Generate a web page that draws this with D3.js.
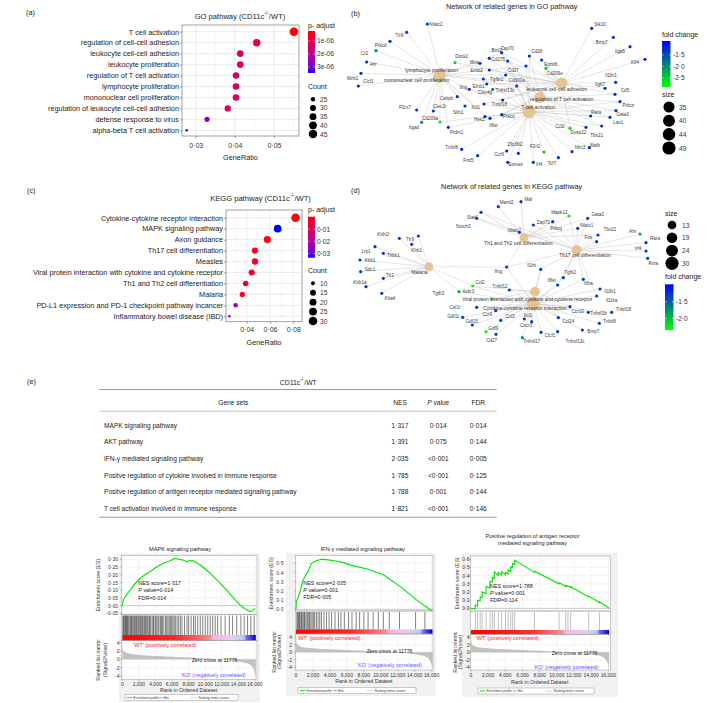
<!DOCTYPE html>
<html><head><meta charset="utf-8">
<script src="https://cdn.jsdelivr.net/npm/d3@7"></script>
<style>body{margin:0;background:#fff}svg{display:block}</style>
</head><body>
<svg id="chart" width="709" height="703"></svg>
<script>
// ================= DATA =================
// (a) GO dot plot
const goTerms = ["T cell activation","regulation of cell-cell adhesion","leukocyte cell-cell adhesion","leukocyte proliferation","regulation of T cell activation","lymphocyte proliferation","mononuclear cell proliferation","regulation of leukocyte cell-cell adhesion","defense response to virus","alpha-beta T cell activation"];
const goRatio = [0.0551,0.0456,0.0414,0.0414,0.0403,0.0403,0.0403,0.0382,0.0329,0.0277];
const goCount = [46,38,34,34,33,33,33,32,27,23];
const goPadj = [2.5e-7,1.05e-6,1.3e-6,1.3e-6,1.35e-6,1.35e-6,1.35e-6,1.2e-6,2.9e-6,3.45e-6];
const goRatioTicks = [0.03,0.04,0.05];
const goPadjTicks = [1e-6,2e-6,3e-6];
const goCountLegend = [25,30,35,40,45];

// (c) KEGG dot plot
const keggTerms = ["Cytokine-cytokine receptor interaction","MAPK signaling pathway","Axon guidance","Th17 cell differentiation","Measles","Viral protein interaction with cytokine and cytokine receptor","Th1 and Th2 cell differentiation","Malaria","PD-L1 expression and PD-1 checkpoint pathway incancer","Inflammatory bowel disease (IBD)"];
const keggRatio = [0.082,0.0666,0.0577,0.0471,0.0471,0.0443,0.0391,0.0362,0.0305,0.0251];
const keggCount = [30,24,21,17,17,16,14,13,11,9];
const keggPadj = [0.0008,0.0333,0.0015,0.002,0.002,0.0025,0.003,0.003,0.024,0.025];
const keggRatioTicks = [0.04,0.06,0.08];
const keggPadjTicks = [0.01,0.02,0.03];
const keggCountLegend = [10,15,20,25,30];

// (b) GO gene-concept network: hubs [code, term, layoutX, layoutY, size, labelX, labelY]
const goNetHubs = [
 ["P","lymphocyte proliferation",270,225,40,245,210],
 ["Q","mononuclear cell proliferation",266,231,38,200,241],
 ["A","leukocyte cell-cell adhesion",635,250,37,620,268],
 ["R","regulation of T cell activation",570,292,35,635,296],
 ["T","T cell activation",537,335,49,565,322]
];
// genes [name, layoutX, layoutY, fold change, labelX, labelY, linked hubs]
const goNetGenes = [
 ["Nfatc2",232,72,-1.3,258,72,"P"],["Tlr9",170,97,-1.3,148,107,"P"],["Prkcd",120,124,-1.3,92,137,"P"],
 ["Cr2",78,152,-2.0,43,161,"P"],["Ahr",50,186,-1.3,70,193,"P"],["Mzb1",33,220,-1.3,8,236,"P"],
 ["Clcf1",25,258,-1.3,55,243,"P"],["P2rx7",200,330,-1.3,165,322,"P"],["Itgad",215,367,-2.0,192,381,"P"],
 ["Cd209a",270,366,-2.7,240,354,"PT"],["Clec2i",250,333,-1.3,268,320,"P"],["Prdm1",295,382,-1.3,320,397,"PT"],
 ["Tnfsf8",335,448,-1.3,305,442,"T"],["Fzd5",383,467,-1.3,355,480,"T"],["Ccr9",470,453,-1.3,447,462,"T"],
 ["Eomes",473,487,-1.3,497,493,"T"],["Zfp36l2",505,460,-1.3,495,432,"T"],["Irf4",550,487,-1.3,568,493,"T"],
 ["F2rl1",582,456,-2.5,555,440,"T"],["Tcf7",625,473,-1.3,606,489,"T"],["Nlrc3",666,455,-1.3,690,443,"T"],
 ["Mafb",718,443,-1.3,735,437,"T"],["Ccl2",660,385,-2.6,630,378,"TRA"],["Dusp22",708,382,-1.3,685,397,"T"],
 ["Tbx21",755,378,-1.3,740,407,"TR"],["Rara",722,348,-1.3,738,337,"TR"],["Lax1",780,352,-1.3,805,368,"TR"],
 ["Gata3",798,332,-1.3,818,342,"TR"],["Prkcz",810,305,-1.3,835,316,"TR"],["Cd5",795,283,-1.3,825,270,"RA"],
 ["Itgb7",765,265,-1.3,750,252,"A"],["Il18r1",797,247,-1.3,783,225,"A"],["Klf4",885,178,-1.3,855,187,"A"],
 ["Itga5",840,140,-1.3,810,155,"A"],["Bmp7",790,112,-1.3,755,127,"A"],["Stk10",725,85,-1.3,750,73,"A"],
 ["Cd28",538,168,-1.3,560,155,"RTA"],["Ephb6",575,180,-1.3,603,193,"A"],["Cd209e",588,205,-2.5,614,220,"A"],
 ["Zap70",455,158,-1.3,472,145,"PTRA"],["Btnl2",418,175,-1.3,440,150,"TR"],["Cd276",473,183,-1.3,445,177,"TRA"],
 ["Il6ra",390,190,-1.3,372,188,"P"],["Erbb2",418,210,-1.3,380,212,"A"],["Cd27",528,198,-1.3,490,212,"PT"],
 ["Dock2",315,188,-2.6,335,170,"PA"],["Tgfbr2",400,237,-1.3,440,239,"PTRA"],["Cd300a",467,225,-1.3,500,241,"PA"],
 ["Efnb1",410,252,-1.3,386,260,"A"],["Ifng",358,268,-1.3,340,263,"PTR"],["Clec4g",428,268,-2.0,405,278,"A"],
 ["Tnfrsf13c",500,258,-1.3,465,270,"PT"],["Cebpb",322,290,-1.3,290,294,"P"],["Xcl1",402,312,-1.3,377,322,"TA"],
 ["Slfn1",345,318,-1.3,325,336,"P"],["Tnfsf18",458,300,-1.3,448,313,"TA"],["Hes1",405,350,-1.3,388,357,"PT"],
 ["Prkcq",455,344,-1.3,476,350,"TRA"],["Il6st",420,355,-1.3,430,377,"P"]
];
const goNetSizeLegend = [35,40,44,49];
const goNetFcTicks = [-1.5,-2.0,-2.5];

// (d) KEGG gene-concept network
const keggNetHubs = [
 ["M","Malaria",237,275,13,208,292],
 ["H","Th1 and Th2 cell differentiation",522,188,14,505,205],
 ["S","Th17 cell differentiation",680,225,17,705,240],
 ["V","Viral protein interaction with cytokine and cytokine receptor",555,350,16,532,372],
 ["C","Cytokine-cytokine receptor interaction",550,385,30,525,398]
];
const keggNetGenes = [
 ["Maml2",445,95,-1.3,470,83,"H"],["Maf",513,80,-1.3,535,73,"H"],["Stat4",393,112,-1.3,367,127,"HS"],
 ["Notch3",380,130,-1.3,340,153,"HS"],["Nfatc2",508,172,-1.3,493,165,"HS"],["Zap70",550,150,-1.3,580,142,"HS"],
 ["Mapk12",657,123,-2.3,628,112,"HS"],["Gata3",713,130,-1.3,743,118,"HS"],["Prkcq",608,140,-1.3,618,160,"HS"],
 ["Nfatc1",683,160,-1.3,710,152,"HS"],["Tbx21",744,180,-1.3,780,164,"HS"],["Fos",740,200,-1.3,715,186,"S"],
 ["Ahr",870,177,-1.9,848,170,"S"],["Rara",888,203,-1.3,915,190,"S"],["Irf4",888,228,-1.3,865,220,"S"],
 ["Rxra",893,250,-1.3,910,265,"S"],["Il2rb",572,283,-1.3,545,270,"SCV"],["Ifng",470,276,-1.3,445,290,"MHSC"],
 ["Tgfb2",640,308,-1.3,660,292,"SC"],["Il6st",623,330,-1.3,605,316,"SC"],["Il6ra",700,313,-1.3,715,325,"SC"],
 ["Il18r1",750,342,-1.3,780,350,"C"],["Il10ra",740,363,-1.3,785,377,"SC"],["Tnfsf18",785,412,-1.3,820,404,"C"],
 ["Tnfrsf1b",715,412,-1.3,745,415,"C"],["Tnfsf8",748,445,-1.3,778,440,"C"],["Bmp7",697,465,-1.3,730,470,"C"],
 ["Ccl24",625,428,-1.3,655,438,"CV"],["Ccr10",660,395,-1.3,683,410,"CV"],["Tnfrsf13c",623,470,-1.3,675,500,"C"],
 ["Clcf1",573,472,-1.3,600,480,"C"],["Tnfrsf17",517,488,-1.8,545,500,"C"],["Cxcr3",545,440,-1.3,528,452,"CV"],
 ["Xcl1",523,432,-1.3,533,420,"CV"],["Ccl3",452,436,-1.3,480,423,"CV"],["Ccr9",437,407,-1.3,412,418,"CV"],
 ["Gdf15",367,450,-1.3,365,440,"C"],["Gdf11",338,427,-1.3,310,425,"C"],["Csf1r",380,397,-1.3,315,397,"C"],
 ["Gdf9",408,470,-2.4,430,460,"C"],["Cd27",438,478,-1.3,425,495,"C"],["Tnfsf12",478,345,-1.3,450,333,"CV"],
 ["Ccl2",368,333,-2.4,390,322,"CVM"],["Ackr3",425,372,-2.3,355,348,"CV"],["Tgfb3",327,350,-1.9,265,355,"CM"],
 ["Klrb1f",148,190,-1.3,100,178,"M"],["Tlr9",205,183,-1.3,180,193,"M"],["Klrb1",185,208,-1.3,200,227,"M"],
 ["Lrp1",75,215,-1.3,48,228,"M"],["Thbs1",100,235,-1.3,130,240,"M"],["Klrk1",30,255,-1.3,60,255,"M"],
 ["Sdc1",32,290,-1.3,60,283,"M"],["Tlr2",100,310,-1.3,120,300,"M"],["Klrb1a",48,335,-1.3,30,323,"M"],
 ["Klra4",95,355,-1.3,120,369,"M"]
];
const keggNetSizeLegend = [13,19,24,30];
const keggNetFcTicks = [-1.5,-2.0];

// (e) GSEA table
const gseaGeneSets = ["MAPK signaling pathway","AKT pathway","IFN-γ mediated signaling pathway","Positve regulation of cytokine involved in immune response","Positve regulation of antigen receptor mediated signaling pathway","T cell activation involved in immune response"];
const gseaNES = ["1·317","1·391","2·035","1·785","1·788","1·821"];
const gseaP = ["0·014","0·075","<0·001","<0·001","0·001","<0·001"];
const gseaFDR = ["0·014","0·144","0·005","0·125","0·144","0·146"];

// GSEA enrichment plots
const rankTicks = [0,2000,4000,6000,8000,10000,12000,14000,16000];
const mapkEsRank = [0,120,500,930,1400,1930,2600,3340,4000,4540,5100,5750,6350,6800,7300,7760,8200,8560,9500,10580,11600,12580,13400,14190,14800,15400,15700,16000];
const mapkEs = [0,0.037,0.07,0.10,0.135,0.166,0.195,0.22,0.245,0.263,0.278,0.291,0.306,0.30,0.295,0.285,0.292,0.29,0.26,0.21,0.155,0.10,0.05,0.005,-0.02,-0.039,-0.032,-0.017];
const mapkHits = [60,150,260,380,450,520,640,700,820,950,1050,1120,1250,1380,1460,1600,1720,1800,1950,2100,2180,2300,2450,2520,2680,2800,2900,3050,3200,3300,3420,3600,3750,3820,4000,4150,4300,4420,4600,4750,4820,5000,5200,5350,5500,5650,5800,5950,6100,6250,6400,6600,6800,7000,7200,7500,7800,8000,8300,8600,8800,9100,9400,9700,10000,10300,10600,10900,11200,11500,11900,12400,12900,13300,13800,14300,14700,15100,15500,15900];
const ifnEsRank = [0,50,430,830,1410,1800,2380,2960,3540,4520,5490,6460,8410,10350,12300,14250,16000];
const ifnEs = [0,0.083,0.174,0.318,0.409,0.5,0.528,0.543,0.54,0.528,0.51,0.48,0.438,0.373,0.246,0.10,-0.015];
const ifnHits = [100,200,300,420,500,640,720,850,980,1050,1200,1350,1500,1600,1750,1900,2050,2200,2400,2600,2800,3000,3300,3600,3900,4200,4600,5000,5300,5700,6200,6600,7100,7500,8000,8500,9100,9700,10300,11000,12200,14100,15200];
const agEsRank = [0,480,500,760,770,1060,1070,1290,1300,1750,1760,2210,2220,2480,2490,2710,2720,3170,3180,3550,3560,4010,4020,4320,4330,4620,4630,4850,4860,5080,5090,7380,7390,10250,10260,11020,11030,11290,11300,11600,11610,13700,13710,14970,14980,16100];
const agEs = [0,-0.01,0.04,0.03,0.10,0.09,0.14,0.13,0.20,0.18,0.27,0.25,0.33,0.32,0.38,0.37,0.45,0.40,0.44,0.41,0.45,0.41,0.44,0.42,0.47,0.45,0.51,0.50,0.55,0.54,0.59,0.44,0.455,0.30,0.315,0.27,0.28,0.265,0.275,0.255,0.265,0.14,0.15,0.07,0.08,0.0];
const agHits = [500,770,1070,1300,1760,2220,2490,2720,3180,3560,4020,4330,4630,4860,5090,7390,10260,11030,11300,11610,13710,14980];
const metricRank = [0,30,100,300,600,1000,2000,3000,4000,6000,8000,10000,11776,13000,14000,15000,15500,15800,16000,16100];
const metricVal = [4.2,3.0,2.2,1.8,1.5,1.3,1.05,0.9,0.8,0.6,0.42,0.22,0,-0.25,-0.5,-0.95,-1.4,-2.2,-3.4,-4.5];

// ================= DRAWING =================
const FONT = '"Liberation Sans", Arial, Helvetica, sans-serif';
const svg = d3.select("#chart").attr("font-family", FONT);
const defs = svg.append("defs");
const dotFmt = (v,d) => v.toFixed(d).replace(".","·");
const expFmt = v => { const [m,e] = v.toExponential(0).split("e"); return m+"e"+(+e<0?"-":"+")+String(Math.abs(+e)).padStart(2,"0"); };

function txt(g,x,y,s,o={}){
  const t = g.append("text").attr("x",x).attr("y",y).attr("font-size",o.size||7)
   .attr("fill",o.fill||"#1a1a1a").attr("text-anchor",o.anchor||"start").attr("dominant-baseline","central").text(s);
  if(o.style) t.attr("font-style",o.style);
  if(o.rotate!=null) t.attr("transform",`rotate(${o.rotate},${x},${y})`);
  return t;
}
function ln(g,x1,y1,x2,y2,c,w){ return g.append("line").attr("x1",x1).attr("y1",y1).attr("x2",x2).attr("y2",y2).attr("stroke",c).attr("stroke-width",w); }

function superTitle(g,x,y,pre,post,size){
  const t = g.append("text").attr("x",x).attr("y",y).attr("font-size",size).attr("fill","#1a1a1a").attr("text-anchor","middle").attr("dominant-baseline","central");
  t.append("tspan").text(pre);
  t.append("tspan").attr("font-size",size*0.65).attr("dy",-size*0.4).text("-/-");
  t.append("tspan").attr("dy",size*0.4).text(post);
}

function dotPlot(c){
  const g = svg.append("g");
  const x = d3.scaleLinear().domain(c.xDomain).range([c.L,c.R]);
  const y = d3.scalePoint().domain(c.terms).range([c.y0,c.y1]);
  const col = d3.scaleLinear().domain(c.cDomain).range(["#ff0000","#0000ff"]).interpolate(d3.interpolateLab).clamp(true);
  const r = v => c.rMin + (c.rMax-c.rMin)*Math.sqrt(Math.max(0,v-c.sDomain[0])/(c.sDomain[1]-c.sDomain[0]));
  g.append("rect").attr("x",c.L).attr("y",c.T).attr("width",c.R-c.L).attr("height",c.B-c.T).attr("fill","#fff");
  c.minor.forEach(v=>ln(g,x(v),c.T,x(v),c.B,"#f1f1f1",0.5));
  c.ticks.forEach(v=>ln(g,x(v),c.T,x(v),c.B,"#e2e2e2",0.7));
  c.terms.forEach(t=>ln(g,c.L,y(t),c.R,y(t),"#e2e2e2",0.7));
  g.append("rect").attr("x",c.L).attr("y",c.T).attr("width",c.R-c.L).attr("height",c.B-c.T).attr("fill","none").attr("stroke","#8a8a8a").attr("stroke-width",0.8);
  const data = c.terms.map((t,i)=>({t,ratio:c.ratio[i],count:c.count[i],p:c.padj[i]}));
  g.selectAll("circle.pt").data(data).join("circle").attr("class","pt")
   .attr("cx",d=>x(d.ratio)).attr("cy",d=>y(d.t)).attr("r",d=>r(d.count)).attr("fill",d=>col(d.p));
  const ax = g.append("g").attr("transform",`translate(0,${c.B})`)
   .call(d3.axisBottom(x).tickValues(c.ticks).tickSize(2).tickPadding(c.tickPad).tickFormat(v=>dotFmt(v,2)));
  ax.select(".domain").remove();
  ax.selectAll("text").attr("font-size",7).attr("fill","#333").attr("font-family",FONT);
  ax.selectAll("line").attr("stroke","#555").attr("stroke-width",0.6);
  const ay = g.append("g").attr("transform",`translate(${c.L},0)`).call(d3.axisLeft(y).tickSize(2).tickPadding(1));
  ay.select(".domain").remove();
  ay.selectAll("text").attr("font-size",7.3).attr("fill","#1a1a1a").attr("font-family",FONT);
  ay.selectAll("line").attr("stroke","#555").attr("stroke-width",0.6);
  txt(g,(c.L+c.R)/2,c.axisTitleY,"GeneRatio",{size:7.3,anchor:"middle"});
  superTitle(g,c.titleX,c.titleY,c.titlePre,"/WT)",7.6);
  const gid = c.id+"grad";
  const grad = defs.append("linearGradient").attr("id",gid).attr("x1",0).attr("y1",0).attr("x2",0).attr("y2",1);
  d3.range(0,1.0001,0.1).forEach(f=>grad.append("stop").attr("offset",f).attr("stop-color",col(c.cDomain[0]+f*(c.cDomain[1]-c.cDomain[0]))));
  txt(g,c.lgX,c.cTitleY,"p- adjust",{size:7});
  g.append("rect").attr("x",c.lgX).attr("y",c.cbT).attr("width",7).attr("height",c.cbB-c.cbT).attr("fill",`url(#${gid})`);
  const cy = d3.scaleLinear().domain(c.cDomain).range([c.cbT,c.cbB]);
  c.cTicks.forEach(v=>{
    ln(g,c.lgX,cy(v),c.lgX+1.4,cy(v),"#fff",0.6); ln(g,c.lgX+5.6,cy(v),c.lgX+7,cy(v),"#fff",0.6);
    txt(g,c.lgX+9,cy(v),c.cFmt(v),{size:6.6,fill:"#333"});
  });
  txt(g,c.lgX,c.sTitleY,"Count",{size:7});
  const sy = d3.scalePoint().domain(c.sLegend).range(c.sLegRange);
  c.sLegend.forEach(v=>{
    g.append("circle").attr("cx",c.lgX+5).attr("cy",sy(v)).attr("r",r(v)).attr("fill","#000");
    txt(g,c.lgX+12,sy(v),String(v),{size:6.6,fill:"#333"});
  });
}

dotPlot({id:"go",terms:goTerms,ratio:goRatio,count:goCount,padj:goPadj,
  xDomain:[0.0265,0.0564],L:182,R:299,T:25,B:136,y0:31.7,y1:130.3,ticks:goRatioTicks,minor:[0.035,0.045,0.055],tickPad:5.5,
  cDomain:[2.5e-7,3.46e-6],rMin:1.3,rMax:4.3,sDomain:[23,46],axisTitleY:157,titleX:240,titleY:15.7,titlePre:"GO pathway (CD11c",
  lgX:308,cTitleY:25,cbT:31,cbB:73,cTicks:goPadjTicks,cFmt:expFmt,sTitleY:86,sLegend:goCountLegend,sLegRange:[99.3,134]});
dotPlot({id:"kegg",terms:keggTerms,ratio:keggRatio,count:keggCount,padj:keggPadj,
  xDomain:[0.0222,0.0875],L:226,R:302,T:210,B:321.7,y0:217.7,y1:316.3,ticks:keggRatioTicks,minor:[0.03,0.05,0.07],tickPad:3.8,
  cDomain:[0,0.0333],rMin:1.3,rMax:4.3,sDomain:[9,30],axisTitleY:342.7,titleX:260.5,titleY:198.3,titlePre:"KEGG pathway (CD11c",
  lgX:308,cTitleY:209.3,cbT:216.7,cbB:257.7,cTicks:keggPadjTicks,cFmt:v=>dotFmt(v,2),sTitleY:270,sLegend:keggCountLegend,sLegRange:[283.3,321]});

function network(c){
  const g = svg.append("g");
  const x = d3.scaleLinear().domain([0,1077]).range([350,709]);
  const y = d3.scaleLinear().domain([0,540]).range([c.top,c.top+180]);
  const hubs = c.hubs.map(h=>({code:h[0],name:h[1],x:h[2],y:h[3],size:h[4],lx:h[5],ly:h[6]}));
  const hubBy = Object.fromEntries(hubs.map(h=>[h.code,h]));
  const genes = c.genes.map(a=>({name:a[0],x:a[1],y:a[2],fc:a[3],lx:a[4],ly:a[5],hubs:a[6]}));
  const edges = [];
  genes.forEach(gn=>[...gn.hubs].forEach(k=>edges.push({s:gn,t:hubBy[k]})));
  const rS = d3.scaleSqrt().domain([0,c.sizeMax]).range([0,c.rMax]);
  const col = d3.scaleLinear().domain([c.fcDomain[1],c.fcDomain[0]]).range(["#00ff00","#0000ff"]).clamp(true);
  g.selectAll("line.e").data(edges).join("line").attr("class","e")
   .attr("x1",d=>x(d.s.x)).attr("y1",d=>y(d.s.y)).attr("x2",d=>x(d.t.x)).attr("y2",d=>y(d.t.y))
   .attr("stroke","#c4c4c4").attr("stroke-width",0.5).attr("stroke-opacity",0.85);
  g.selectAll("circle.h").data(hubs).join("circle").attr("class","h")
   .attr("cx",d=>x(d.x)).attr("cy",d=>y(d.y)).attr("r",d=>rS(d.size)).attr("fill","#E5C494");
  g.selectAll("circle.g").data(genes).join("circle").attr("class","g")
   .attr("cx",d=>x(d.x)).attr("cy",d=>y(d.y)).attr("r",1.6).attr("fill",d=>col(d.fc));
  genes.forEach(d=>txt(g,x(d.lx),y(d.ly),d.name,{size:4.6,anchor:"middle",fill:"#3a3a3a"}));
  hubs.forEach(d=>txt(g,x(d.lx),y(d.ly),d.name,{size:5,anchor:"middle",fill:"#333"}));
  txt(g,511.7,c.titleY,c.title,{size:7.3,anchor:"middle"});
  txt(g,c.sLgX-3,c.sTitleY,"size",{size:7});
  const sy = d3.scalePoint().domain(c.sizeLegend).range(c.sLegRange);
  c.sizeLegend.forEach(v=>{
    g.append("circle").attr("cx",c.sLgX+4).attr("cy",sy(v)).attr("r",rS(v)).attr("fill","#000");
    txt(g,c.sLgX+14,sy(v),String(v),{size:6.6,fill:"#333"});
  });
  const gid = c.id+"fc";
  const grad = defs.append("linearGradient").attr("id",gid).attr("x1",0).attr("y1",0).attr("x2",0).attr("y2",1);
  d3.range(0,1.0001,0.1).forEach(f=>grad.append("stop").attr("offset",f).attr("stop-color",col(c.fcDomain[0]+f*(c.fcDomain[1]-c.fcDomain[0]))));
  txt(g,c.fcX,c.fcTitleY,"fold change",{size:7});
  g.append("rect").attr("x",c.fcX).attr("y",c.fcT).attr("width",8.5).attr("height",c.fcB-c.fcT).attr("fill",`url(#${gid})`);
  const fy = d3.scaleLinear().domain(c.fcDomain).range([c.fcT,c.fcB]);
  c.fcTicks.forEach(v=>{
    ln(g,c.fcX,fy(v),c.fcX+1.6,fy(v),"#fff",0.6); ln(g,c.fcX+6.9,fy(v),c.fcX+8.5,fy(v),"#fff",0.6);
    txt(g,c.fcX+11,fy(v),dotFmt(v,1),{size:6.6,fill:"#333"});
  });
}

network({id:"gonet",top:0,hubs:goNetHubs,genes:goNetGenes,sizeMax:49,rMax:6.6,fcDomain:[-0.9,-2.9],
  title:"Network of related genes in GO pathway",titleY:6,sLgX:665,sTitleY:94,sizeLegend:goNetSizeLegend,sLegRange:[107,148],
  fcX:662,fcTitleY:34,fcT:41,fcB:87,fcTicks:goNetFcTicks});
network({id:"keggnet",top:175,hubs:keggNetHubs,genes:keggNetGenes,sizeMax:30,rMax:6.6,fcDomain:[-0.976,-2.35],
  title:"Network of related genes in KEGG pathway",titleY:186.7,sLgX:668,sTitleY:213,sizeLegend:keggNetSizeLegend,sLegRange:[225,263.3],
  fcX:665,fcTitleY:276.7,fcT:284.3,fcB:330,fcTicks:keggNetFcTicks});

const lab = svg.append("g");
[["(a)",26,12.7],["(b)",351,13],["(c)",27,190],["(d)",351,190],["(e)",27,381]].forEach(a=>txt(lab,a[1],a[2],a[0],{size:7.3}));

(function(){
  const g = svg.append("g");
  superTitle(g,298.3,381.7,"CD11c","/WT",6.8);
  ln(g,99.3,389.5,496.7,389.5,"#999",1.1);
  ln(g,99.3,411.2,496.7,411.2,"#aaa",0.7);
  ln(g,99.3,517.3,496.7,517.3,"#999",1.1);
  txt(g,233.3,402.3,"Gene sets",{size:6.6,anchor:"middle"});
  txt(g,400,402.3,"NES",{size:6.6,anchor:"middle"});
  const ph = g.append("text").attr("x",438.3).attr("y",402.3).attr("font-size",6.6).attr("text-anchor","middle").attr("dominant-baseline","central").attr("fill","#1a1a1a");
  ph.append("tspan").attr("font-style","italic").text("P");
  ph.append("tspan").text(" value");
  txt(g,478.3,402.3,"FDR",{size:6.6,anchor:"middle"});
  const ry = d3.scalePoint().domain(gseaGeneSets).range([425,508.5]);
  gseaGeneSets.forEach((s,i)=>{
    txt(g,104,ry(s),s,{size:6.6});
    txt(g,400,ry(s),gseaNES[i],{size:6.6,anchor:"middle"});
    txt(g,438.3,ry(s),gseaP[i],{size:6.6,anchor:"middle"});
    txt(g,478.3,ry(s),gseaFDR[i],{size:6.6,anchor:"middle"});
  });
})();

const heat = defs.append("linearGradient").attr("id","heat").attr("x1",0).attr("x2",1).attr("y1",0).attr("y2",0);
[[0,"#ff0000"],[0.4,"#ff2a2a"],[0.55,"#ff5a5a"],[0.66,"#f59090"],[0.68,"#f2b6e4"],[0.8,"#eec4ec"],[0.82,"#d6d6f4"],[0.91,"#c4c4f2"],[0.93,"#7070ee"],[0.97,"#3030e0"],[1,"#0000b0"]]
 .forEach(s=>heat.append("stop").attr("offset",s[0]).attr("stop-color",s[1]));

function gsea(c){
  const g = svg.append("g");
  const x = d3.scaleLinear().domain([0,16000]).range([c.x0,c.x16]);
  const yE = d3.scaleLinear().domain([0,c.esMax]).range([c.esZero,c.esMaxY]);
  const yM = d3.scaleLinear().domain([0,4]).range([c.mZero,c.m4]);
  const fs = 5;
  g.append("rect").attr("x",c.bg[0]).attr("y",c.bg[1]).attr("width",c.bg[2]-c.bg[0]).attr("height",c.bg[3]-c.bg[1]).attr("fill","#f1f1f1");
  const panel = (t,b)=>g.append("rect").attr("x",c.boxL).attr("y",t).attr("width",c.boxR-c.boxL).attr("height",b-t).attr("fill","#fff");
  panel(c.top,c.esBot); panel(c.esBot,c.colBot); panel(c.colBot,c.mBot);
  rankTicks.forEach(v=>{ ln(g,x(v),c.top,x(v),c.esBot,"#e8e8e8",0.5); ln(g,x(v),c.colBot,x(v),c.mBot,"#e8e8e8",0.5); });
  c.esTicks.forEach(v=>ln(g,c.boxL,yE(v),c.boxR,yE(v),"#e8e8e8",0.5));
  [-4,-2,2,4].forEach(v=>ln(g,c.boxL,yM(v),c.boxR,yM(v),"#ececec",0.5));
  ln(g,c.boxL,yE(0),c.boxR,yE(0),"#aaa",0.6);
  g.append("path").datum(c.esRank.map((r,i)=>[r,c.es[i]]))
   .attr("d",d3.line().x(d=>x(d[0])).y(d=>yE(d[1]))).attr("fill","none").attr("stroke","#00e400").attr("stroke-width",1.1);
  g.selectAll("line.hit").data(c.hits).join("line").attr("class","hit")
   .attr("x1",d=>x(d)).attr("x2",d=>x(d)).attr("y1",c.esBot+1).attr("y2",c.hitBot)
   .attr("stroke",c.hitColor).attr("stroke-width",0.55);
  g.append("rect").attr("x",x(0)).attr("y",c.hitBot).attr("width",x(16100)-x(0)).attr("height",c.colBot-c.hitBot).attr("fill","url(#heat)");
  g.append("path").datum(metricRank.map((r,i)=>[r,metricVal[i]]))
   .attr("d",d3.area().x(d=>x(d[0])).y0(yM(0)).y1(d=>yM(Math.max(-4.6,Math.min(4.3,d[1]))))).attr("fill","#c3c1bc");
  ln(g,c.boxL,yM(0),c.boxR,yM(0),"#bbb",0.4);
  [[c.top,c.esBot],[c.esBot,c.colBot],[c.colBot,c.mBot]].forEach(p=>g.append("rect").attr("x",c.boxL).attr("y",p[0]).attr("width",c.boxR-c.boxL).attr("height",p[1]-p[0]).attr("fill","none").attr("stroke","#999").attr("stroke-width",0.5));
  c.esTicks.forEach(v=>{ ln(g,c.boxL-1.5,yE(v),c.boxL,yE(v),"#666",0.4); txt(g,c.esLabX,yE(v),dotFmt(v,c.esDec),{size:fs,anchor:"end",fill:"#333"}); });
  [4,2,0,-2,-4].forEach(v=>{ ln(g,c.boxL-1.5,yM(v),c.boxL,yM(v),"#666",0.4); txt(g,c.mLabX,yM(v),String(v),{size:fs,anchor:"end",fill:"#333"}); });
  rankTicks.forEach(v=>{ ln(g,x(v),c.mBot,x(v),c.mBot+1.5,"#666",0.4); txt(g,x(v),c.xLabY,d3.format(",")(v),{size:fs,anchor:"middle",fill:"#333"}); });
  txt(g,(c.x0+c.x16)/2,c.rankLabY,"Rank in Ordered Dataset",{size:5.2,anchor:"middle",fill:"#333"});
  txt(g,c.esTitleX,(c.top+c.esBot)/2,"Enrichment score (ES)",{size:5.2,anchor:"middle",rotate:-90,fill:"#333"});
  txt(g,c.mTitleX[0],(c.colBot+c.mBot)/2,"Ranked list metric",{size:5.2,anchor:"middle",rotate:-90,fill:"#333"});
  txt(g,c.mTitleX[1],(c.colBot+c.mBot)/2,"(Signal2Noise)",{size:5.2,anchor:"middle",rotate:-90,fill:"#333"});
  c.title.forEach((t,i)=>txt(g,c.titleX,c.titleY[i],t,{size:5.6,anchor:"middle",fill:"#222"}));
  const st = c.stats;
  txt(g,st.x,st.y[0],"NES score="+st.nes,{size:5.4,fill:"#222"});
  const pv = g.append("text").attr("x",st.x).attr("y",st.y[1]).attr("font-size",5.4).attr("dominant-baseline","central").attr("fill","#222");
  pv.append("tspan").attr("font-style","italic").text("P");
  pv.append("tspan").text(" value="+st.p);
  txt(g,st.x,st.y[2],"FDR="+st.fdr,{size:5.4,fill:"#222"});
  txt(g,c.wt[0],c.wt[1],"'WT' (positively correlated)",{size:5.4,fill:"#ff1a1a"});
  txt(g,c.zc[0],c.zc[1],"Zero cross at 11776",{size:5.2,fill:"#222"});
  txt(g,c.ko[0],c.ko[1],"'KO' (negatively correlated)",{size:5.4,fill:"#5a5aff",anchor:"end"});
  const L = c.leg, w = L[1]-L[0];
  g.append("rect").attr("x",L[0]).attr("y",L[2]-3).attr("width",w).attr("height",6).attr("fill","#fff").attr("stroke","#888").attr("stroke-width",0.4);
  ln(g,L[0]+w*0.015,L[2],L[0]+w*0.065,L[2],"#00e400",0.9);
  txt(g,L[0]+w*0.075,L[2],"Enrichment profile",{size:3.1,fill:"#333"});
  ln(g,L[0]+w*0.3,L[2],L[0]+w*0.33,L[2],"#333",0.5);
  txt(g,L[0]+w*0.34,L[2],"Hits",{size:3.1,fill:"#333"});
  ln(g,L[0]+w*0.58,L[2],L[0]+w*0.64,L[2],"#bbb",0.6);
  txt(g,L[0]+w*0.65,L[2],"Ranking metric scores",{size:3.1,fill:"#333"});
}

gsea({x0:122.3,x16:255,boxL:121.5,boxR:257,top:555.7,esBot:614.5,hitBot:635,colBot:640.7,mBot:679.5,
  esMax:0.3,esZero:605.7,esMaxY:559.3,esTicks:[-0.05,0,0.05,0.1,0.15,0.2,0.25,0.3],esDec:2,mZero:659.3,m4:642.7,
  esRank:mapkEsRank,es:mapkEs,hits:mapkHits,hitColor:"#1a1a1a",bg:[119,553,260,702],
  esLabX:118,mLabX:119.5,xLabY:683.5,rankLabY:690,esTitleX:98.5,mTitleX:[98.5,104.8],
  title:["MAPK signaling pathway"],titleX:180,titleY:[549],
  stats:{x:138.3,y:[582.7,590,597.5],nes:"1·317",p:"0·014",fdr:"0·014"},
  wt:[133.3,644.7],zc:[191.7,660],ko:[245.7,675.3],leg:[125,238,697.7]});
gsea({x0:296,x16:431.7,boxL:295.5,boxR:433,top:555.7,esBot:611,hitBot:629.3,colBot:634,mBot:670,
  esMax:0.5,esZero:609.3,esMaxY:563.3,esTicks:[0,0.1,0.2,0.3,0.4,0.5],esDec:1,mZero:652.3,m4:637.3,
  esRank:ifnEsRank,es:ifnEs,hits:ifnHits,hitColor:"#1a1a1a",bg:[286,553,436,696],
  esLabX:283.5,mLabX:292,xLabY:675,rankLabY:681,esTitleX:270.7,mTitleX:[273.5,278.8],
  title:["IFN-γ mediated signaling pathway"],titleX:362.7,titleY:[549],
  stats:{x:303.3,y:[582.7,590,597.3],nes:"2·035",p:"0·001",fdr:"0·005"},
  wt:[297.5,638.3],zc:[366.7,650.5],ko:[421.7,665.3],leg:[298,416,690.7]});
gsea({x0:471,x16:608.3,boxL:470.5,boxR:610.5,top:556,esBot:611,hitBot:630,colBot:634.3,mBot:670,
  esMax:0.6,esZero:608.3,esMaxY:559.3,esTicks:[0,0.1,0.2,0.3,0.4,0.5,0.6],esDec:1,mZero:652.3,m4:637.3,
  esRank:agEsRank,es:agEs,hits:agHits,hitColor:"#8a8a8a",bg:[462,553,618,697],
  esLabX:469.5,mLabX:469.5,xLabY:675.3,rankLabY:681.7,esTitleX:456.7,mTitleX:[455,460.3],
  title:["Positive regulation of antigen receptor","mediated signaling pathway"],titleX:532.5,titleY:[536,543.3],
  stats:{x:490,y:[585.7,592.7,600],nes:"1·788",p:"0·001",fdr:"0·114"},
  wt:[475.7,638.3],zc:[551.7,652.7],ko:[598.3,667.3],leg:[478,594,691]});
</script>
</body></html>
